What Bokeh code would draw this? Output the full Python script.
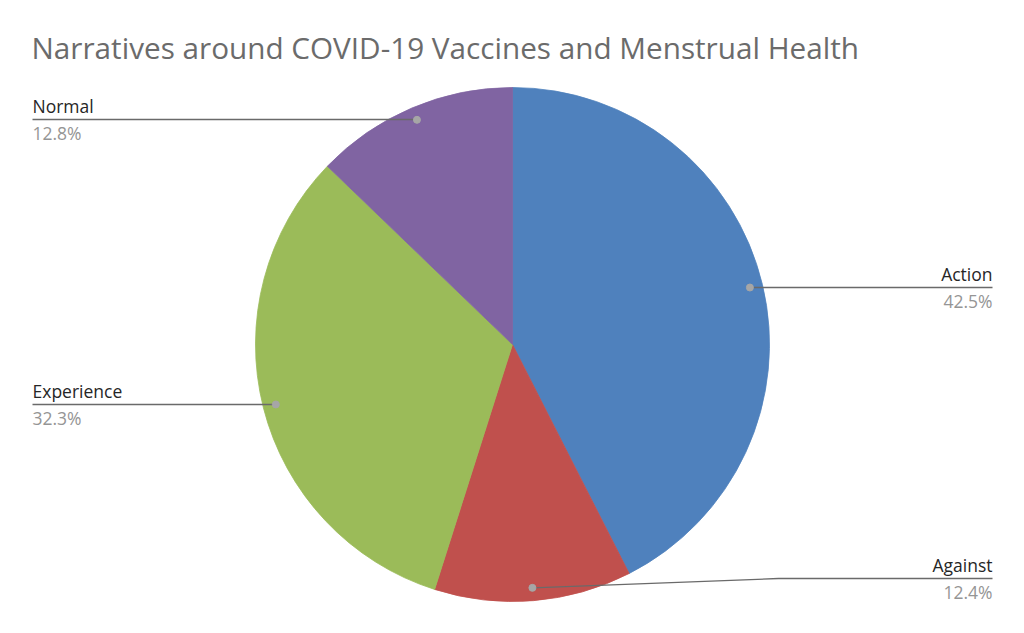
import math
from bokeh.plotting import figure
from bokeh.models import Range1d, ColumnDataSource
from bokeh.core.properties import value
from bokeh.embed import file_html
from bokeh.resources import INLINE

title_text = "Narratives around COVID-19 Vaccines and Menstrual Health"
categories = ["Action", "Against", "Experience", "Normal"]
shares = [42.5, 12.4, 32.3, 12.8]
colors = ["#4F81BD", "#C0504D", "#9BBB59", "#8064A2"]

W, H = 1008, 617
FONT = "Open Sans"

p = figure(width=W, height=H, output_backend="svg", toolbar_location=None,
           x_range=Range1d(0, 1008), y_range=Range1d(16, 633))
p.axis.visible = False
p.grid.visible = False
p.outline_line_color = None
p.background_fill_color = "white"
p.border_fill_color = "white"
p.min_border = 0

def Y(py):
    return 633 - py

cx, cy, R = 512, Y(344), 257
total = sum(shares)
starts, ends, mids = [], [], []
cum = 0.0
for s in shares:
    f0 = cum / total
    cum += s
    f1 = cum / total
    starts.append(math.pi / 2 - 2 * math.pi * f0)
    ends.append(math.pi / 2 - 2 * math.pi * f1)
    mids.append(math.pi / 2 - 2 * math.pi * (f0 + f1) / 2)

src = ColumnDataSource(dict(start=starts, end=ends, color=colors))
p.wedge(x=cx, y=cy, radius=R, start_angle="start", end_angle="end",
        direction="clock", fill_color="color", line_color="color",
        line_width=0.8, source=src)

# dots at 0.95R along bisectors
dx = [cx + 0.95 * R * math.cos(a) for a in mids]
dy = [cy + 0.95 * R * math.sin(a) for a in mids]

# label layout: (anchor side, x of text, pixel y of line)
layout = {
    "Action": ("right", 992, 287),
    "Against": ("right", 992, 578),
    "Experience": ("left", 32, 404),
    "Normal": ("left", 32, 119),
}

line_col = "#6a6a6a"
for i, c in enumerate(categories):
    side, tx, ly = layout[c]
    if side == "right":
        if c == "Against":
            bx = 778
            p.line([dx[i], bx, tx], [dy[i], Y(ly), Y(ly)], line_color=line_col, line_width=1.3)
        else:
            p.line([dx[i], tx], [Y(ly), Y(ly)], line_color=line_col, line_width=1.3)
        align = "right"
    else:
        p.line([tx, dx[i]], [Y(ly), Y(ly)], line_color=line_col, line_width=1.3)
        align = "left"
    p.text(x=[tx], y=[Y(ly) + 2], text=[c], text_align=align, text_baseline="bottom",
           text_font=value(FONT), text_font_size="17.5px", text_color="#262626")
    p.text(x=[tx], y=[Y(ly) - 1], text=[f"{shares[i]:.1f}%"], text_align=align,
           text_baseline="top", text_font=value(FONT), text_font_size="17.5px",
           text_color="#959595")

p.scatter(x=dx, y=dy, size=7, fill_color="#A6A6A6", line_color="#A6A6A6")

p.text(x=[31], y=[Y(47)], text=[title_text], text_align="left", text_baseline="middle",
       text_font=value(FONT), text_font_size="29.7px", text_color="#6b6b6b")

open("out.html", "w").write(file_html(p, INLINE))
